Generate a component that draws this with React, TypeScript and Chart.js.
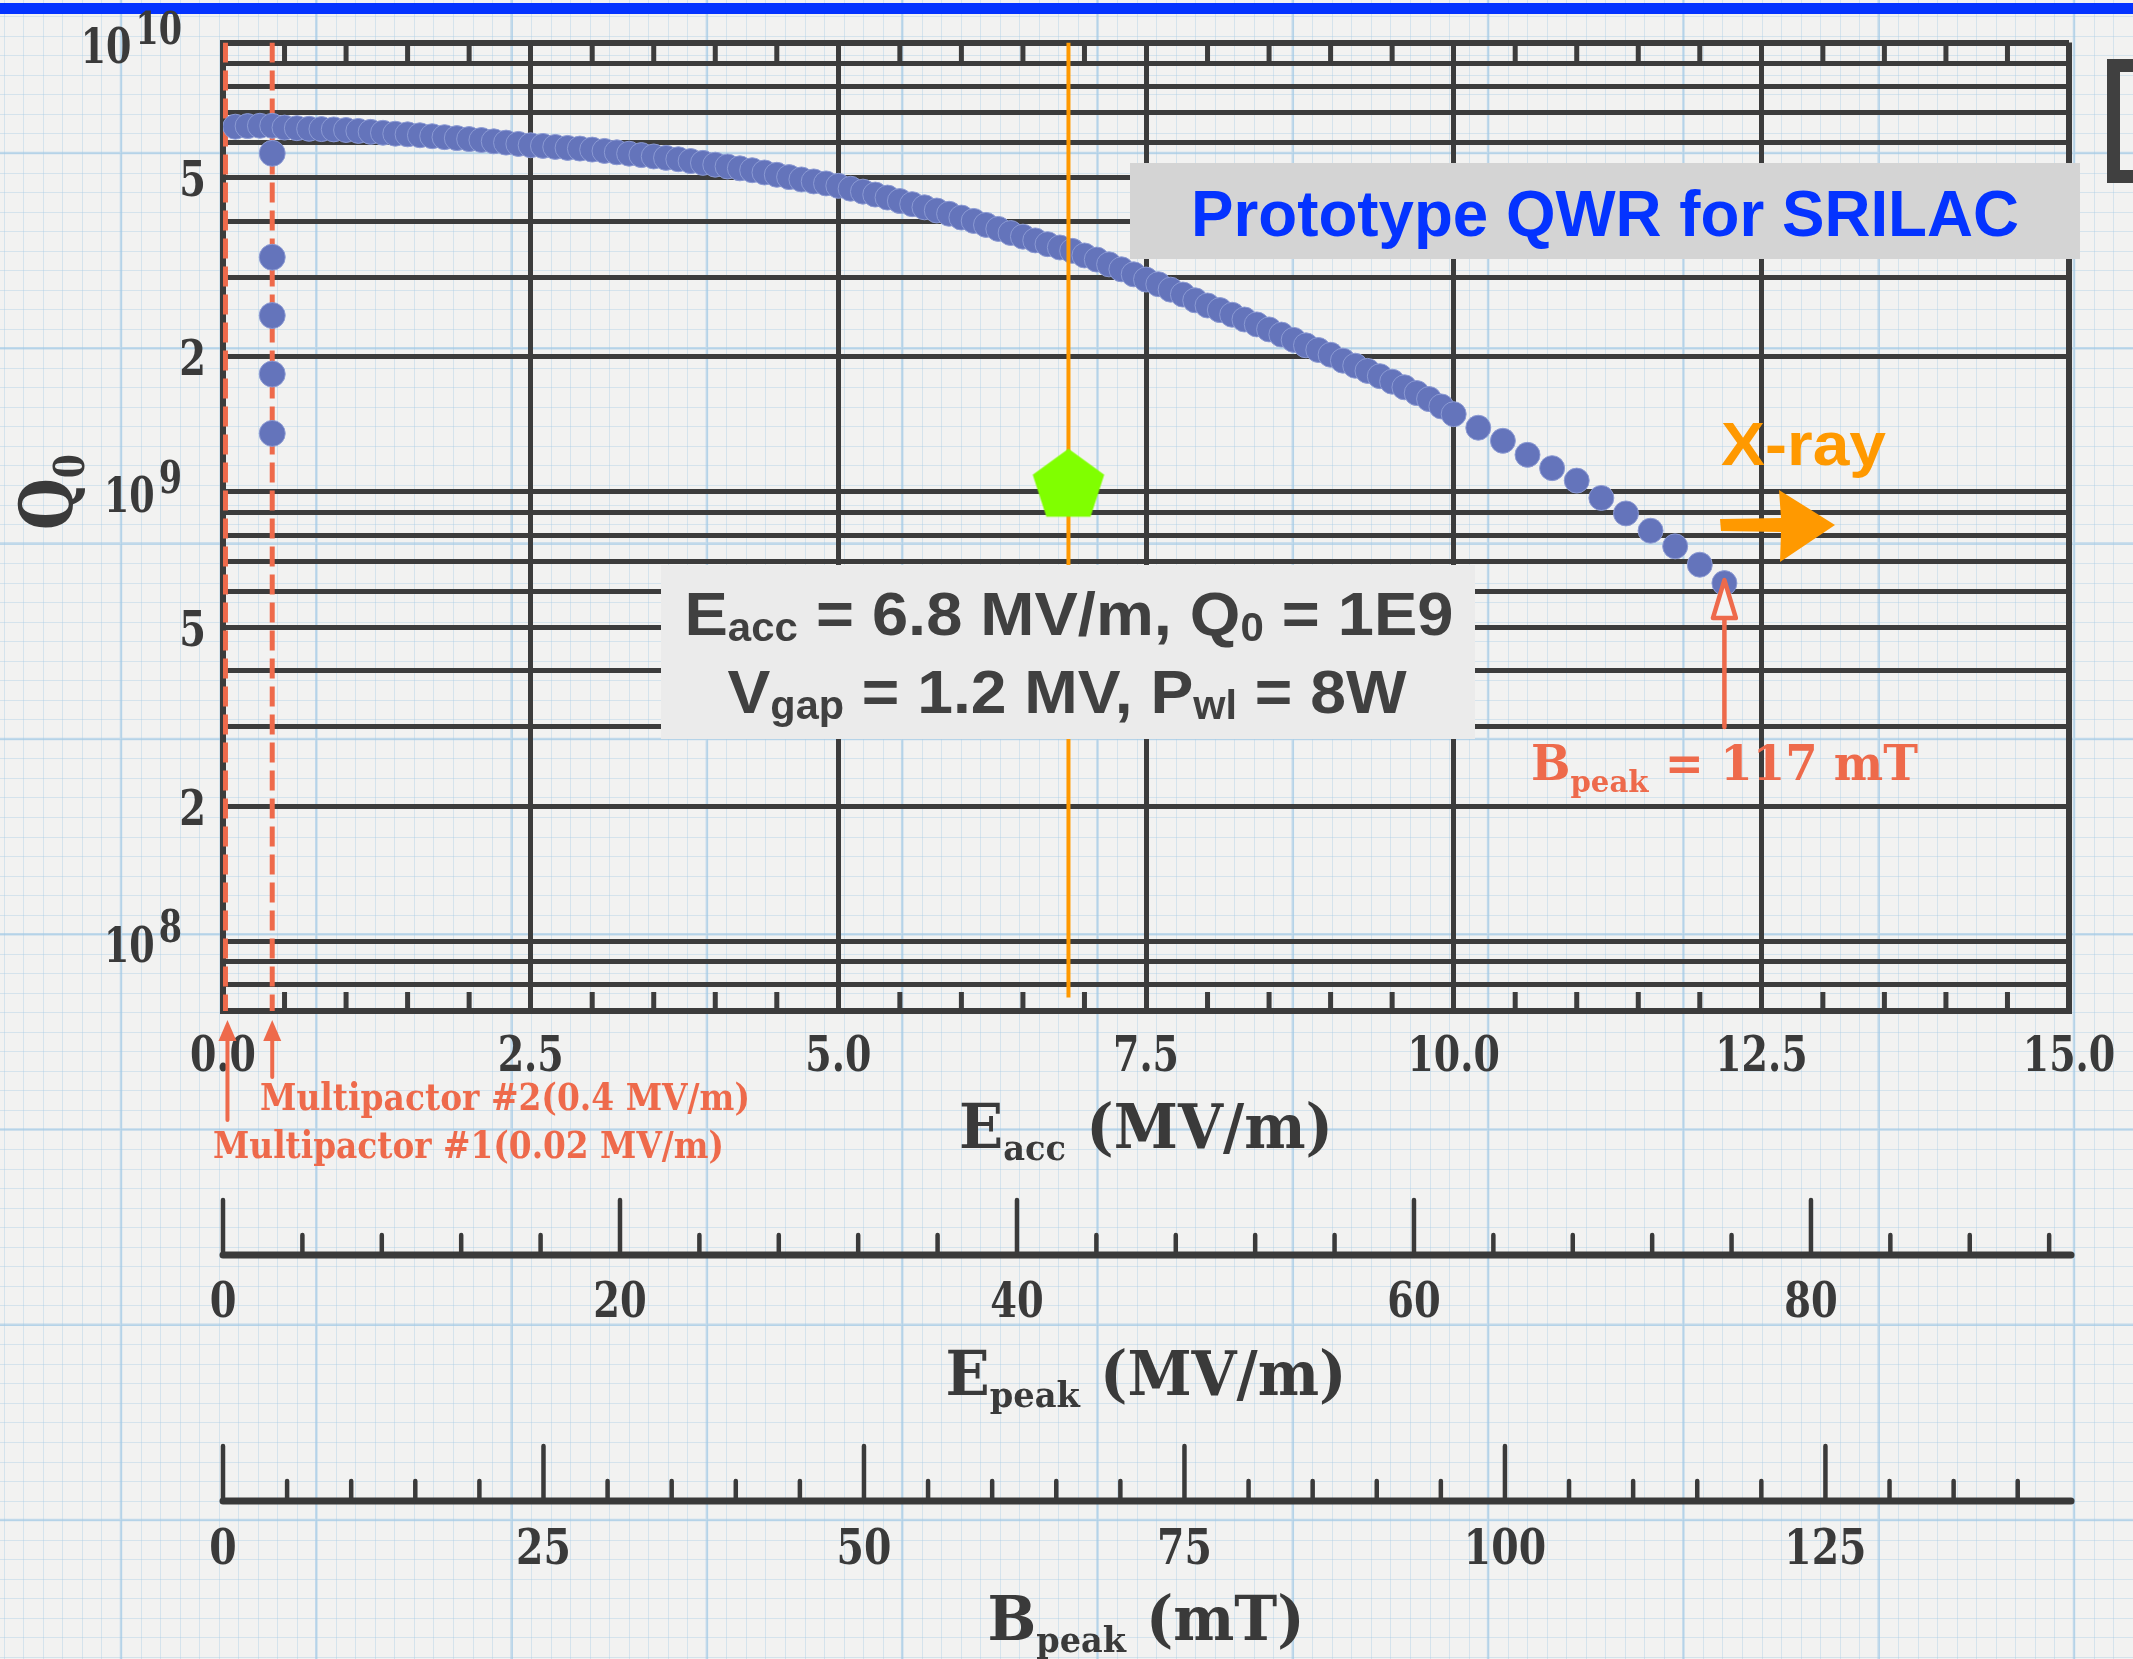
import React, { useEffect, useRef } from 'react';
import { Chart, registerables } from 'chart.js';

Chart.register(...registerables);

// ---------------- data ----------------
const E_ACC = [
  0.1, 0.2, 0.3, 0.4, 0.5, 0.6, 0.7, 0.8, 0.9, 1.0,
  1.1, 1.2, 1.3, 1.4, 1.5, 1.6, 1.7, 1.8, 1.9, 2.0,
  2.1, 2.2, 2.3, 2.4, 2.5, 2.6, 2.7, 2.8, 2.9, 3.0,
  3.1, 3.2, 3.3, 3.4, 3.5, 3.6, 3.7, 3.8, 3.9, 4.0,
  4.1, 4.2, 4.3, 4.4, 4.5, 4.6, 4.7, 4.8, 4.9, 5.0,
  5.1, 5.2, 5.3, 5.4, 5.5, 5.6, 5.7, 5.8, 5.9, 6.0,
  6.1, 6.2, 6.3, 6.4, 6.5, 6.6, 6.7, 6.8, 6.9, 7.0,
  7.1, 7.2, 7.3, 7.4, 7.5, 7.6, 7.7, 7.8, 7.9, 8.0,
  8.1, 8.2, 8.3, 8.4, 8.5, 8.6, 8.7, 8.8, 8.9, 9.0,
  9.1, 9.2, 9.3, 9.4, 9.5, 9.6, 9.7, 9.8, 9.9, 10.0,
  10.2, 10.4, 10.6, 10.8, 11.0, 11.2, 11.4, 11.6, 11.8, 12.0, 12.2,
];
const Q0 = [
  6.50e9, 6.52e9, 6.53e9, 6.53e9, 6.47e9, 6.45e9, 6.43e9, 6.42e9, 6.41e9, 6.39e9,
  6.36e9, 6.33e9, 6.30e9, 6.27e9, 6.25e9, 6.22e9, 6.19e9, 6.16e9, 6.13e9, 6.10e9,
  6.07e9, 6.03e9, 5.99e9, 5.95e9, 5.91e9, 5.89e9, 5.86e9, 5.83e9, 5.81e9, 5.78e9,
  5.74e9, 5.70e9, 5.66e9, 5.62e9, 5.58e9, 5.54e9, 5.50e9, 5.45e9, 5.40e9, 5.35e9,
  5.30e9, 5.25e9, 5.20e9, 5.14e9, 5.08e9, 5.02e9, 4.96e9, 4.91e9, 4.86e9, 4.80e9,
  4.73e9, 4.66e9, 4.59e9, 4.52e9, 4.44e9, 4.37e9, 4.30e9, 4.23e9, 4.16e9, 4.08e9,
  4.01e9, 3.93e9, 3.85e9, 3.77e9, 3.70e9, 3.63e9, 3.56e9, 3.50e9, 3.44e9, 3.36e9,
  3.29e9, 3.21e9, 3.13e9, 3.05e9, 2.97e9, 2.90e9, 2.82e9, 2.75e9, 2.67e9, 2.60e9,
  2.54e9, 2.48e9, 2.42e9, 2.36e9, 2.30e9, 2.24e9, 2.18e9, 2.12e9, 2.07e9, 2.02e9,
  1.96e9, 1.91e9, 1.86e9, 1.81e9, 1.76e9, 1.71e9, 1.66e9, 1.61e9, 1.55e9, 1.49e9,
  1.39e9, 1.30e9, 1.21e9, 1.13e9, 1.06e9, 0.97e9, 0.896e9, 0.82e9, 0.757e9, 0.689e9, 0.627e9,
];

const MP_COLUMN_E = [0.4, 0.4, 0.4, 0.4, 0.4];
const MP_COLUMN_Q0 = [5.67e9, 3.33e9, 2.47e9, 1.83e9, 1.35e9];

const OPERATING_E = [6.87];
const OPERATING_Q0 = [1.03e9];

const ORANGE_LINE_E = [6.87, 6.87];
const ORANGE_LINE_Q0 = [1e10, 7.5e7];

const MP1_LINE_E = [0.02, 0.02];
const MP2_LINE_E = [0.4, 0.4];
const MP_LINE_Q0 = [1e10, 7e7];

const X_MIN = 0;
const X_MAX = 15;
const Y_MIN = 7e7;
const Y_MAX = 1e10;
const EPEAK_MAX = 93;
const BPEAK_MAX = 144;

const X_TICKS = [
  0, 0.5, 1, 1.5, 2, 2.5, 3, 3.5, 4, 4.5, 5, 5.5, 6, 6.5, 7, 7.5,
  8, 8.5, 9, 9.5, 10, 10.5, 11, 11.5, 12, 12.5, 13, 13.5, 14, 14.5, 15,
];
const X_LABEL_VALUES = [0, 2.5, 5, 7.5, 10, 12.5, 15];
const X_LABEL_TEXT = ['0.0', '2.5', '5.0', '7.5', '10.0', '12.5', '15.0'];

const Y_TICKS = [
  7e7, 8e7, 9e7,
  1e8, 2e8, 3e8, 4e8, 5e8, 6e8, 7e8, 8e8, 9e8,
  1e9, 2e9, 3e9, 4e9, 5e9, 6e9, 7e9, 8e9, 9e9,
  1e10,
];
const Y_LABEL_VALUES = [1e8, 2e8, 5e8, 1e9, 2e9, 5e9, 1e10];
const Y_LABEL_BASE = ['10', '2', '5', '10', '2', '5', '10'];
const Y_LABEL_EXP = ['8', '', '', '9', '', '', '10'];

const EPEAK_TICKS = [0, 4, 8, 12, 16, 20, 24, 28, 32, 36, 40, 44, 48, 52, 56, 60, 64, 68, 72, 76, 80, 84, 88, 92];
const EPEAK_LABEL_VALUES = [0, 20, 40, 60, 80];
const BPEAK_TICKS = [0, 5, 10, 15, 20, 25, 30, 35, 40, 45, 50, 55, 60, 65, 70, 75, 80, 85, 90, 95, 100, 105, 110, 115, 120, 125, 130, 135, 140];
const BPEAK_LABEL_VALUES = [0, 25, 50, 75, 100, 125];

// ---------------- styles ----------------
const W = 2133;
const H = 1659;
const SLAB = '"DejaVu Serif", "Liberation Serif", serif';
const SANS = '"Liberation Sans", Arial, Helvetica, sans-serif';
const INK = '#3a3a3a';
const GRID = '#3c3c3c';
const RED = '#ee6a4b';
const ORANGE = '#ff9900';
const BLUE = '#0433ff';
const DOT = '#6474bb';
const DOT_EDGE = 'rgba(140,155,212,0.95)';
const GREEN = '#80ff00';

type Seg = { t: string; s: number; dy?: number };

function drawRich(ctx: any, segs: Seg[], x: number, y: number, o: any) {
  const weight = o.weight || 'normal';
  let total = 0;
  const widths = segs.map((sg) => {
    ctx.font = `${weight} ${sg.s}px ${o.family}`;
    const m = ctx.measureText(sg.t).width;
    total += m;
    return m;
  });
  const sx = o.width ? o.width / total : (o.sx || 1);
  const drawn = total * sx;
  let x0 = x;
  if (o.align === 'center') x0 = x - drawn / 2;
  else if (o.align === 'right') x0 = x - drawn;
  ctx.save();
  ctx.translate(x0, y);
  ctx.scale(sx, 1);
  ctx.fillStyle = o.color;
  ctx.textBaseline = 'alphabetic';
  ctx.textAlign = 'left';
  let cx = 0;
  segs.forEach((sg, i) => {
    ctx.font = `${weight} ${sg.s}px ${o.family}`;
    ctx.fillText(sg.t, cx, sg.dy || 0);
    cx += widths[i];
  });
  ctx.restore();
  return drawn;
}

function makePentagon(R: number, color: string) {
  const size = Math.ceil(R * 2) + 2;
  const c = document.createElement('canvas');
  c.width = size;
  c.height = size;
  const g = c.getContext('2d') as CanvasRenderingContext2D;
  const cx = size / 2;
  const cy = size / 2;
  g.beginPath();
  for (let i = 0; i < 5; i++) {
    const a = -Math.PI / 2 + (i * 2 * Math.PI) / 5;
    const px = cx + R * Math.cos(a);
    const py = cy + R * Math.sin(a);
    if (i === 0) g.moveTo(px, py);
    else g.lineTo(px, py);
  }
  g.closePath();
  g.fillStyle = color;
  g.fill();
  return c;
}

function arrowUp(ctx: any, x: number, tipY: number, tailY: number, color: string, lw: number, headLen: number, halfW: number, open: boolean) {
  ctx.save();
  ctx.strokeStyle = color;
  ctx.fillStyle = color;
  ctx.lineWidth = lw;
  ctx.lineCap = 'round';
  ctx.beginPath();
  ctx.moveTo(x, tailY);
  ctx.lineTo(x, tipY + headLen);
  ctx.stroke();
  ctx.beginPath();
  ctx.moveTo(x, tipY);
  ctx.lineTo(x + halfW, tipY + headLen);
  ctx.lineTo(x - halfW, tipY + headLen);
  ctx.closePath();
  if (open) {
    ctx.fillStyle = '#f4f4f3';
    ctx.fill();
    ctx.lineJoin = 'round';
    ctx.stroke();
  } else {
    ctx.fill();
  }
  ctx.restore();
}

function drawPaper(ctx: any, w: number, h: number) {
  ctx.fillStyle = '#f2f2f1';
  ctx.fillRect(0, 0, w, h);
  const minor = 19.53;
  const major = 195.3;
  const x0 = 121 - major;
  const y0 = 153 - major;
  ctx.lineWidth = 1;
  ctx.strokeStyle = 'rgba(165,203,230,0.38)';
  ctx.beginPath();
  for (let x = x0; x < w; x += minor) {
    ctx.moveTo(Math.round(x) + 0.5, 0);
    ctx.lineTo(Math.round(x) + 0.5, h);
  }
  for (let y = y0; y < h; y += minor) {
    ctx.moveTo(0, Math.round(y) + 0.5);
    ctx.lineTo(w, Math.round(y) + 0.5);
  }
  ctx.stroke();
  ctx.lineWidth = 2.5;
  ctx.strokeStyle = 'rgba(160,200,230,0.6)';
  ctx.beginPath();
  for (let x = x0; x < w; x += major) {
    ctx.moveTo(x, 0);
    ctx.lineTo(x, h);
  }
  for (let y = y0; y < h; y += major) {
    ctx.moveTo(0, y);
    ctx.lineTo(w, y);
  }
  ctx.stroke();
}

function drawRuler(ctx: any, scale: any, lineY: number, ticks: number[], majors: number[], majorLen: number, minorLen: number) {
  ctx.save();
  ctx.strokeStyle = INK;
  ctx.lineCap = 'round';
  ctx.lineWidth = 4.5;
  ctx.beginPath();
  ticks.forEach((v) => {
    const px = scale.getPixelForValue(v);
    const len = majors.includes(v) ? majorLen : minorLen;
    ctx.moveTo(px, lineY);
    ctx.lineTo(px, lineY - len);
  });
  ctx.stroke();
  ctx.lineWidth = 7;
  ctx.beginPath();
  ctx.moveTo(scale.left, lineY);
  ctx.lineTo(scale.right + 2, lineY);
  ctx.stroke();
  ctx.restore();
}

const slidePlugin = {
  id: 'slide',
  beforeDraw(chart: any) {
    const { ctx, width, height } = chart;
    ctx.save();
    drawPaper(ctx, width, height);
    // top blue bar
    ctx.fillStyle = BLUE;
    ctx.fillRect(0, 3, width, 11);
    // partial dark frame at the right edge
    ctx.strokeStyle = '#404040';
    ctx.lineWidth = 13;
    ctx.strokeRect(2113.5, 65.5, 80, 111);
    ctx.restore();
  },
  beforeDatasetsDraw(chart: any) {
    const { ctx, chartArea } = chart;
    const xs = chart.scales.x;
    ctx.save();
    ctx.strokeStyle = GRID;
    ctx.lineWidth = 5;
    ctx.beginPath();
    X_TICKS.forEach((v) => {
      if (X_LABEL_VALUES.includes(v)) return;
      const px = xs.getPixelForValue(v);
      ctx.moveTo(px, chartArea.top);
      ctx.lineTo(px, chartArea.top + 19);
      ctx.moveTo(px, chartArea.bottom);
      ctx.lineTo(px, chartArea.bottom - 19);
    });
    ctx.stroke();
    ctx.restore();
  },
  afterDatasetsDraw(chart: any) {
    const { ctx } = chart;
    const xs = chart.scales.x;
    const ys = chart.scales.y;
    ctx.save();
    // operating-point box
    ctx.fillStyle = '#ebebeb';
    ctx.fillRect(661, 565, 814, 174);
    drawRich(ctx, [
      { t: 'E', s: 62 }, { t: 'acc', s: 40, dy: 6 }, { t: ' = 6.8 MV/m, Q', s: 62 }, { t: '0', s: 40, dy: 6 }, { t: ' = 1E9', s: 62 },
    ], 1069, 635, { family: SANS, weight: 'bold', color: '#404040', align: 'center', width: 769 });
    drawRich(ctx, [
      { t: 'V', s: 62 }, { t: 'gap', s: 40, dy: 6 }, { t: ' = 1.2 MV, P', s: 62 }, { t: 'wl', s: 40, dy: 6 }, { t: ' = 8W', s: 62 },
    ], 1067, 713, { family: SANS, weight: 'bold', color: '#404040', align: 'center', width: 679 });

    // title box
    ctx.fillStyle = '#d4d4d4';
    ctx.fillRect(1130, 163, 950, 96);
    drawRich(ctx, [{ t: 'Prototype QWR for SRILAC', s: 64 }], 1605, 236,
      { family: SANS, weight: 'bold', color: BLUE, align: 'center', width: 828 });

    // X-ray label + arrow
    drawRich(ctx, [{ t: 'X-ray', s: 62 }], 1721, 465,
      { family: SANS, weight: 'bold', color: ORANGE, align: 'left', width: 165 });
    ctx.fillStyle = ORANGE;
    ctx.beginPath();
    ctx.moveTo(1720, 519);
    ctx.lineTo(1781, 518);
    ctx.lineTo(1779, 490);
    ctx.lineTo(1835, 525);
    ctx.lineTo(1780, 562);
    ctx.lineTo(1781, 532);
    ctx.lineTo(1721, 531);
    ctx.closePath();
    ctx.fill();

    // B_peak arrow anchored on the last measured point
    const lastE = E_ACC[E_ACC.length - 1];
    const lastQ = Q0[Q0.length - 1];
    const ax = xs.getPixelForValue(lastE);
    const tipY = ys.getPixelForValue(lastQ) - 3;
    arrowUp(ctx, ax, tipY, 727, RED, 4.5, 38, 11.5, true);
    drawRich(ctx, [{ t: 'B', s: 48 }, { t: 'peak', s: 30, dy: 12 }, { t: ' = 117 mT', s: 48 }], 1531, 780,
      { family: SLAB, weight: 'bold', color: RED, align: 'left', width: 387 });
    ctx.restore();
  },
  afterDraw(chart: any) {
    const { ctx, chartArea } = chart;
    const xs = chart.scales.x;
    const ys = chart.scales.y;
    const x2 = chart.scales.x2;
    const x3 = chart.scales.x3;
    ctx.save();

    // y tick labels
    Y_LABEL_VALUES.forEach((v, i) => {
      const py = ys.getPixelForValue(v);
      const exp = Y_LABEL_EXP[i];
      if (exp) {
        const ew = drawRich(ctx, [{ t: exp, s: 44 }], chartArea.left - 41, py + 1,
          { family: SLAB, weight: 'bold', color: INK, align: 'right', sx: 0.76 });
        drawRich(ctx, [{ t: Y_LABEL_BASE[i], s: 48 }], chartArea.left - 41 - ew - 4, py + 20.5,
          { family: SLAB, weight: 'bold', color: INK, align: 'right', sx: 0.76 });
      } else {
        drawRich(ctx, [{ t: Y_LABEL_BASE[i], s: 48 }], chartArea.left - 17, py + 18.5,
          { family: SLAB, weight: 'bold', color: INK, align: 'right', sx: 0.8 });
      }
    });

    // y title (rotated)
    ctx.save();
    ctx.translate(72, 530);
    ctx.rotate(-Math.PI / 2);
    drawRich(ctx, [{ t: 'Q', s: 72 }, { t: '0', s: 42, dy: 12 }], 0, 0,
      { family: SLAB, weight: 'bold', color: INK, align: 'left', width: 76 });
    ctx.restore();

    // main x tick labels
    X_LABEL_VALUES.forEach((v, i) => {
      drawRich(ctx, [{ t: X_LABEL_TEXT[i], s: 48 }], xs.getPixelForValue(v), chartArea.bottom + 60,
        { family: SLAB, weight: 'bold', color: INK, align: 'center', sx: 0.79 });
    });
    drawRich(ctx, [{ t: 'E', s: 62 }, { t: 'acc', s: 36, dy: 12 }, { t: ' (MV/m)', s: 62 }],
      (xs.left + xs.right) / 2, chartArea.bottom + 137,
      { family: SLAB, weight: 'bold', color: INK, align: 'center', width: 374 });

    // E_peak ruler
    drawRuler(ctx, x2, x2.top + 60, EPEAK_TICKS, EPEAK_LABEL_VALUES, 55, 20);
    EPEAK_LABEL_VALUES.forEach((v) => {
      drawRich(ctx, [{ t: String(v), s: 48 }], x2.getPixelForValue(v), x2.top + 122,
        { family: SLAB, weight: 'bold', color: INK, align: 'center', sx: 0.8 });
    });
    drawRich(ctx, [{ t: 'E', s: 62 }, { t: 'peak', s: 36, dy: 12 }, { t: ' (MV/m)', s: 62 }],
      (x2.left + x2.right) / 2, x2.top + 200,
      { family: SLAB, weight: 'bold', color: INK, align: 'center', width: 401 });

    // B_peak ruler
    drawRuler(ctx, x3, x3.top + 101, BPEAK_TICKS, BPEAK_LABEL_VALUES, 55, 20);
    BPEAK_LABEL_VALUES.forEach((v) => {
      drawRich(ctx, [{ t: String(v), s: 48 }], x3.getPixelForValue(v), x3.top + 164,
        { family: SLAB, weight: 'bold', color: INK, align: 'center', sx: 0.82 });
    });
    drawRich(ctx, [{ t: 'B', s: 62 }, { t: 'peak', s: 36, dy: 12 }, { t: ' (mT)', s: 62 }],
      (x3.left + x3.right) / 2, x3.top + 240,
      { family: SLAB, weight: 'bold', color: INK, align: 'center', width: 317 });

    // multipactor arrows and notes
    const m1 = xs.getPixelForValue(MP1_LINE_E[0]);
    const m2 = xs.getPixelForValue(MP2_LINE_E[0]);
    arrowUp(ctx, m1 + 2, chartArea.bottom + 9, chartArea.bottom + 109, RED, 4, 21, 9, false);
    arrowUp(ctx, m2, chartArea.bottom + 9, chartArea.bottom + 66, RED, 4, 21, 9, false);
    drawRich(ctx, [{ t: 'Multipactor #2(0.4 MV/m)', s: 38 }], 260, chartArea.bottom + 99,
      { family: SLAB, weight: 'bold', color: RED, align: 'left', width: 490 });
    drawRich(ctx, [{ t: 'Multipactor #1(0.02 MV/m)', s: 38 }], 213, chartArea.bottom + 147,
      { family: SLAB, weight: 'bold', color: RED, align: 'left', width: 511 });

    ctx.restore();
  },
};

export default function App() {
  const ref = useRef<HTMLCanvasElement>(null);

  useEffect(() => {
    const canvas = ref.current as HTMLCanvasElement;
    const pentagon = makePentagon(37.6, GREEN);

    const chart = new Chart(canvas, {
      type: 'scatter',
      data: {
        datasets: [
          {
            label: 'Q0',
            data: E_ACC.map((x, i) => ({ x, y: Q0[i] })),
            pointRadius: 12.5,
            pointBackgroundColor: DOT,
            pointBorderColor: DOT_EDGE,
            pointBorderWidth: 1,
            showLine: false,
            order: 4,
            xAxisID: 'x',
            yAxisID: 'y',
          },
          {
            label: 'Multipactor',
            data: MP_COLUMN_E.map((x, i) => ({ x, y: MP_COLUMN_Q0[i] })),
            pointRadius: 13,
            pointBackgroundColor: DOT,
            pointBorderColor: DOT_EDGE,
            pointBorderWidth: 1,
            showLine: false,
            order: 3,
            xAxisID: 'x',
            yAxisID: 'y',
          },
          {
            label: 'Operating point',
            data: OPERATING_E.map((x, i) => ({ x, y: OPERATING_Q0[i] })),
            pointStyle: pentagon as any,
            pointRadius: 38,
            showLine: false,
            order: 1,
            xAxisID: 'x',
            yAxisID: 'y',
          },
          {
            label: 'Eacc 6.8',
            data: ORANGE_LINE_E.map((x, i) => ({ x, y: ORANGE_LINE_Q0[i] })),
            borderColor: ORANGE,
            borderWidth: 4,
            pointRadius: 0,
            showLine: true,
            order: 2,
            xAxisID: 'x',
            yAxisID: 'y',
          },
          {
            label: 'MP1',
            data: MP1_LINE_E.map((x, i) => ({ x, y: MP_LINE_Q0[i] })),
            borderColor: RED,
            borderWidth: 5,
            borderDash: [20, 8],
            pointRadius: 0,
            showLine: true,
            order: 5,
            xAxisID: 'x',
            yAxisID: 'y',
          },
          {
            label: 'MP2',
            data: MP2_LINE_E.map((x, i) => ({ x, y: MP_LINE_Q0[i] })),
            borderColor: RED,
            borderWidth: 5,
            borderDash: [20, 8],
            pointRadius: 0,
            showLine: true,
            order: 5,
            xAxisID: 'x',
            yAxisID: 'y',
          },
        ],
      },
      options: {
        responsive: false,
        animation: false,
        devicePixelRatio: 1,
        events: [],
        layout: { padding: { top: 42.6, right: 64, left: 0, bottom: 0 } },
        plugins: {
          legend: { display: false },
          tooltip: { enabled: false },
          title: { display: false },
        },
        scales: {
          x: {
            type: 'linear',
            position: 'bottom',
            min: X_MIN,
            max: X_MAX,
            weight: 0,
            afterBuildTicks: (s: any) => { s.ticks = X_TICKS.map((v) => ({ value: v })); },
            afterFit: (s: any) => { s.height = 184; },
            ticks: { display: false },
            grid: {
              drawTicks: false,
              color: (c: any) => (c.tick && X_LABEL_VALUES.includes(c.tick.value) ? GRID : 'rgba(0,0,0,0)'),
              lineWidth: (c: any) => (c.tick && c.tick.value === X_MAX ? 6 : 5),
            },
            border: { display: true, width: 6, color: GRID },
          },
          x2: {
            type: 'linear',
            position: 'bottom',
            min: 0,
            max: EPEAK_MAX,
            weight: 1,
            afterBuildTicks: (s: any) => { s.ticks = EPEAK_TICKS.map((v) => ({ value: v })); },
            afterFit: (s: any) => { s.height = 205; },
            ticks: { display: false },
            grid: { display: false, drawTicks: false },
            border: { display: false },
          },
          x3: {
            type: 'linear',
            position: 'bottom',
            min: 0,
            max: BPEAK_MAX,
            weight: 2,
            afterBuildTicks: (s: any) => { s.ticks = BPEAK_TICKS.map((v) => ({ value: v })); },
            afterFit: (s: any) => { s.height = 259; },
            ticks: { display: false },
            grid: { display: false, drawTicks: false },
            border: { display: false },
          },
          y: {
            type: 'logarithmic',
            position: 'left',
            min: Y_MIN,
            max: Y_MAX,
            afterBuildTicks: (s: any) => { s.ticks = Y_TICKS.map((v) => ({ value: v })); },
            afterFit: (s: any) => { s.width = 223; },
            ticks: { display: false },
            grid: {
              drawTicks: false,
              color: GRID,
              lineWidth: (c: any) => (c.tick && c.tick.value === Y_MAX ? 6 : 5),
            },
            border: { display: true, width: 6, color: GRID },
          },
        },
      } as any,
      plugins: [slidePlugin as any],
    } as any);

    return () => chart.destroy();
  }, []);

  return (
    <div style={{ position: 'fixed', left: 0, top: 0, width: W, height: H, overflow: 'hidden' }}>
      <canvas ref={ref} width={W} height={H} style={{ display: 'block', width: W, height: H }} />
    </div>
  );
}
